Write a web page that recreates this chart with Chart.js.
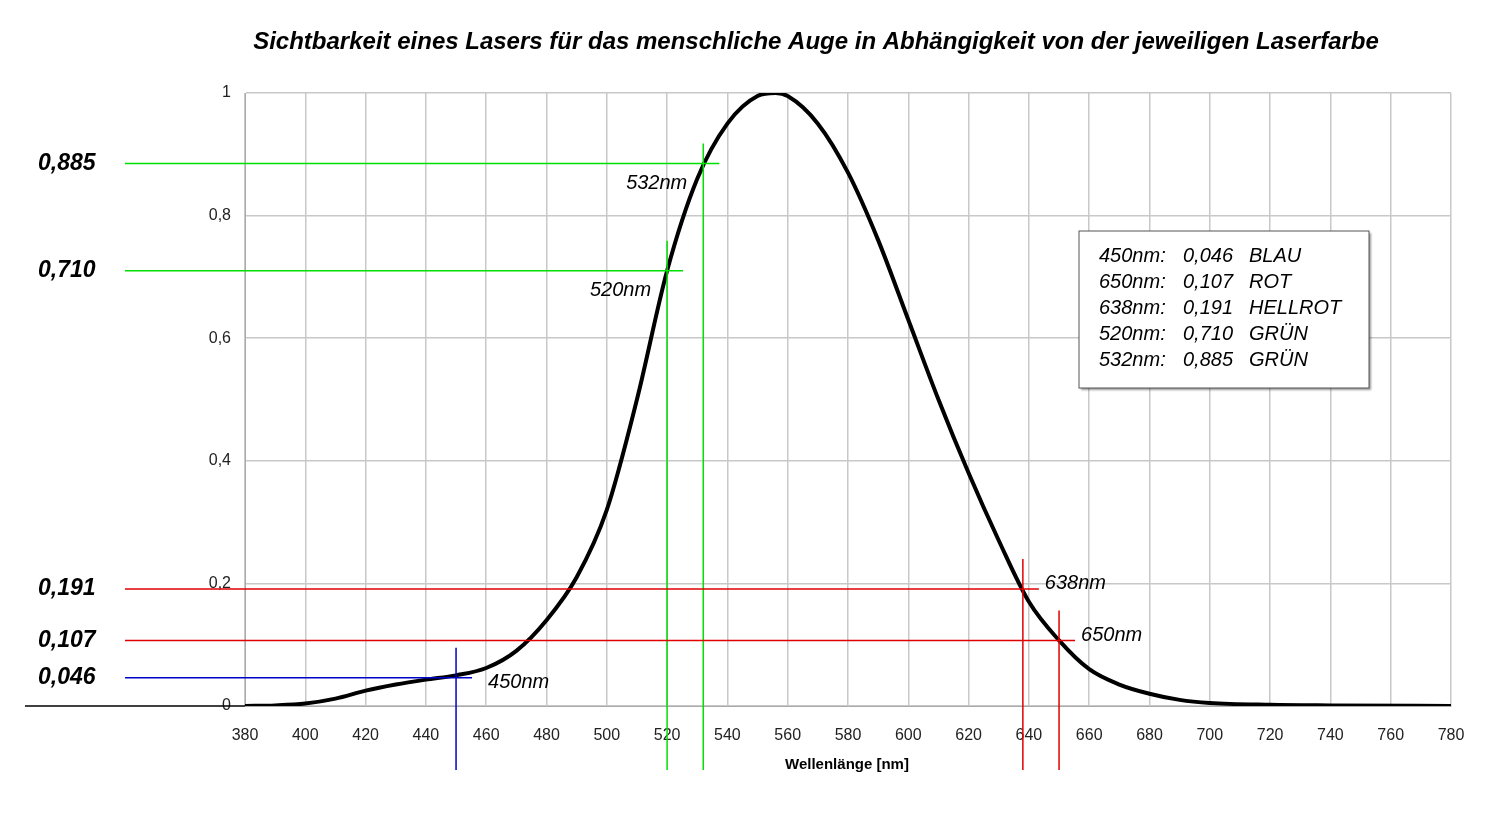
<!DOCTYPE html>
<html><head><meta charset="utf-8">
<script src="https://cdn.jsdelivr.net/npm/chart.js@4"></script>
<style>html,body{margin:0;padding:0;background:#fff}canvas{display:block}</style>
</head><body>
<canvas id="c" width="1500" height="816"></canvas>
<script>
const wavelengths = [380,390,400,410,420,430,440,450,460,470,480,490,500,510,520,530,540,550,556,560,570,580,590,600,610,620,630,640,650,660,670,680,690,700,720,740,780];
const sensitivity = [0,0.001,0.004,0.012,0.025,0.035,0.043,0.05,0.062,0.09,0.14,0.21,0.32,0.5,0.71,0.86,0.95,0.995,1.0,0.995,0.95,0.87,0.76,0.63,0.5,0.38,0.27,0.17,0.107,0.06,0.035,0.02,0.01,0.005,0.002,0.001,0];
const markerNm = [450,520,532,638,650];
const markerVal = [0.046,0.710,0.885,0.191,0.107];
const markerLabel = ['0,046','0,710','0,885','0,191','0,107'];
const markerColor = ['#0000cc','#00e000','#00e000','#e00000','#e00000'];
const legendLines = [['450nm:','0,046','BLAU'],['650nm:','0,107','ROT'],['638nm:','0,191','HELLROT'],['520nm:','0,710','GRÜN'],['532nm:','0,885','GRÜN']];
const titleText = 'Sichtbarkeit eines Lasers für das menschliche Auge in Abhängigkeit von der jeweiligen Laserfarbe';

const overlay = {
  id:'overlay',
  afterDraw(ch){
    const c=ch.ctx, xs=ch.scales.x, ys=ch.scales.y, a=ch.chartArea;
    c.save();
    c.fillStyle='#000';
    c.font='italic bold 24px "Liberation Sans", Arial';
    c.textAlign='center';c.textBaseline='middle';
    c.fillText(titleText,816,42);
    c.font='bold 15px "Liberation Sans", Arial';
    c.fillText('Wellenlänge [nm]',847,765);
    c.strokeStyle='#000';c.lineWidth=1.5;
    c.beginPath();c.moveTo(25,a.bottom);c.lineTo(a.left,a.bottom);c.stroke();
    for(let i=0;i<markerNm.length;i++){
      const px=xs.getPixelForValue(markerNm[i]);
      const py=ys.getPixelForValue(markerVal[i]);
      c.strokeStyle=markerColor[i];c.lineWidth=1.5;
      c.beginPath();c.moveTo(125,py);c.lineTo(px+16,py);c.stroke();
      c.beginPath();c.moveTo(px,Math.max(py-(i==2?20:30),93));c.lineTo(px,770);c.stroke();
      c.fillStyle='#000';c.textAlign='left';
      c.font='italic bold 23px "Liberation Sans", Arial';
      c.fillText(markerLabel[i],38,py);
      c.font='italic 20px "Liberation Sans", Arial';
      if(i==0) c.fillText(markerNm[i]+'nm',px+32,py+5);
      else if(i<3){c.textAlign='right';c.fillText(markerNm[i]+'nm',px-16,py+20);}
      else c.fillText(markerNm[i]+'nm',px+22,py-5);
    }
    c.fillStyle='#fff';c.strokeStyle='#555';c.lineWidth=1;
    c.shadowColor='rgba(0,0,0,0.4)';c.shadowOffsetX=2;c.shadowOffsetY=2;c.shadowBlur=2;
    c.fillRect(1079,231,290,157);c.shadowColor='transparent';
    c.strokeRect(1079,231,290,157);
    c.fillStyle='#000';c.font='italic 20px "Liberation Sans", Arial';c.textAlign='left';
    legendLines.forEach((l,j)=>{const y=256+j*26;c.fillText(l[0],1099,y);c.fillText(l[1],1183,y);c.fillText(l[2],1249,y);});
    c.restore();
  }
};

new Chart(document.getElementById('c'),{
  type:'line',
  data:{datasets:[{data:wavelengths.map((x,i)=>({x,y:sensitivity[i]})),borderColor:'#000',borderWidth:4,pointRadius:0,cubicInterpolationMode:'monotone',fill:false}]},
  options:{
    responsive:false,animation:false,
    layout:{padding:{left:195,top:93,right:49,bottom:70}},
    plugins:{legend:{display:false},tooltip:{enabled:false}},
    scales:{
      x:{type:'linear',min:380,max:780,afterFit:s=>{s.height=40;},
        ticks:{stepSize:20,color:'#222',font:{size:16,family:'"Liberation Sans", Arial'},maxRotation:0,padding:20},
        grid:{color:'#c8c8c8',lineWidth:1.5,drawTicks:false},border:{color:'#aaa'}},
      y:{min:0,max:1,afterFit:s=>{s.width=50;},
        ticks:{stepSize:0.2,color:'#222',font:{size:16,family:'"Liberation Sans", Arial'},padding:14,
          callback:v=>v===0?'0':(v===1?'1':v.toFixed(1).replace('.',','))},
        grid:{color:'#c8c8c8',lineWidth:1.5,drawTicks:false},border:{color:'#aaa'}}
    }
  },
  plugins:[overlay]
});
</script>
</body></html>
